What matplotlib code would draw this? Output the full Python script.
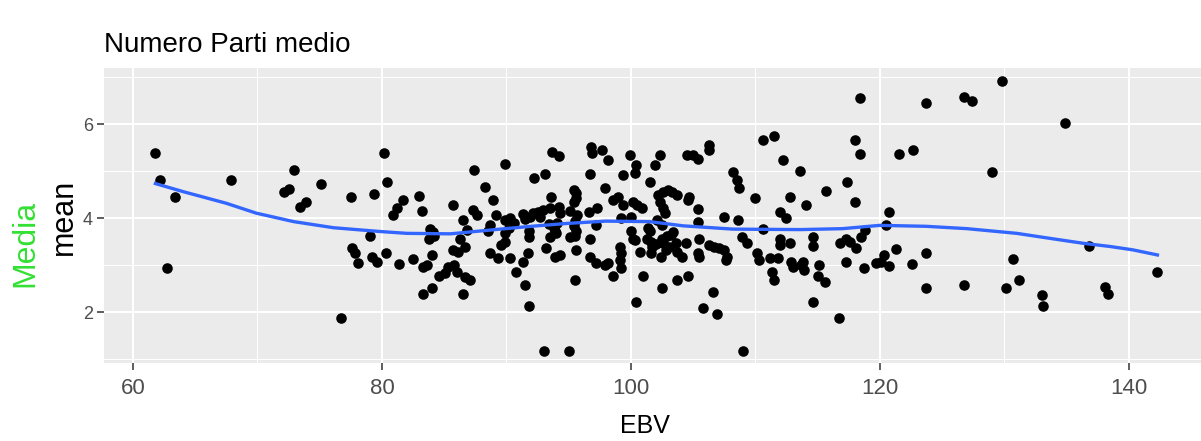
import matplotlib
matplotlib.use("Agg")
import matplotlib.pyplot as plt
from matplotlib.ticker import MultipleLocator

# pontos (EBV, media)
ebv = [
    61.8, 62.2, 63.4, 62.7, 67.9, 72.1, 72.5, 72.9, 73.4, 73.9,
    75.1, 77.5, 77.6, 77.8, 78.1, 76.7, 79.0, 79.4, 79.2, 79.6,
    80.2, 80.4, 80.3, 80.9, 81.2, 81.7, 81.4, 82.5, 83.0, 83.2,
    83.9, 84.1, 83.8, 84.2, 84.0, 83.3, 83.6, 83.3, 84.0, 84.6,
    85.1, 85.3, 85.7,
    86.5, 86.8, 86.3, 86.7, 85.7, 86.1, 85.8, 86.0, 86.7, 87.1,
    86.5, 87.4, 87.3, 87.6, 88.3, 88.9, 89.2, 88.7, 88.5, 88.7,
    89.3, 89.9, 89.9, 90.3, 90.6, 90.2, 89.9, 89.6, 89.9, 90.3,
    90.8, 91.3, 91.5, 91.9, 92.1, 92.5, 92.7, 92.9, 91.8, 91.8,
    91.3, 91.7, 91.5, 91.8, 92.2, 93.1, 93.7, 94.2, 93.6, 93.5,
    94.2, 94.3, 93.4, 93.8, 94.1, 94.0, 93.5, 93.9, 93.2, 93.9,
    94.3, 93.0, 95.0, 95.4, 95.6, 95.6, 95.4, 95.1, 95.7, 95.5,
    95.4, 95.6, 95.5, 95.1, 95.6, 95.5, 96.7, 96.8, 96.9, 96.6,
    97.3, 96.7, 97.2, 96.7, 97.2,
    97.7, 98.2, 97.9, 98.6, 99.0, 99.4, 99.9, 100.4, 100.3, 99.4,
    100.2, 100.5, 100.9, 99.2, 100.0, 100.0, 100.2, 100.3, 99.1, 99.2,
    99.1, 99.2, 97.9, 98.2, 98.6, 101.0, 100.4, 100.7, 101.5, 101.9,
    102.3, 101.4, 101.5, 102.2, 102.6, 103.0, 103.3, 103.7, 102.3, 102.6,
    102.7, 102.1, 102.5, 101.3, 101.6, 101.7, 101.6, 102.0, 102.5, 102.6,
    102.9, 103.2, 103.4, 102.8, 102.4, 103.1, 103.6, 102.5, 103.7, 104.6,
    103.7, 104.1, 104.4, 104.6, 104.7, 104.5, 105.0, 105.4, 106.3, 106.3,
    105.4, 105.4, 105.5, 105.4, 105.5, 106.3, 106.7, 107.1, 107.5, 107.7,
    107.6, 106.6, 105.8, 106.9, 107.5, 108.2, 108.5, 108.7, 108.6, 108.9,
    109.3, 109.0,
    110.0, 110.1, 110.3, 110.6, 111.5, 110.6, 111.2, 111.3, 111.5, 112.2,
    112.0, 112.5, 112.0, 112.0, 111.8, 112.8, 112.8, 112.9, 113.0, 113.6,
    114.1, 113.7, 113.9, 113.8, 114.6, 114.6, 114.6, 115.1, 115.0, 115.6,
    115.7, 116.7, 116.8, 117.3, 117.6, 118.1, 117.3, 117.4, 118.0, 118.4,
    118.4, 118.0, 118.7, 118.5, 118.8, 119.7, 120.1, 120.3, 120.7, 120.5,
    120.7, 121.3, 121.5,
    122.7, 122.6, 123.7, 123.7, 123.7, 126.8, 127.4, 126.8, 129.0, 129.8,
    130.1, 130.7, 131.2, 133.0, 133.1, 134.9, 136.8, 138.1, 138.3, 142.3,
]
media = [
    5.40, 4.81, 4.46, 2.95, 4.81, 4.55, 4.62, 5.03, 4.25, 4.35,
    4.73, 4.46, 3.36, 3.26, 3.04, 1.87, 3.63, 4.51, 3.18, 3.08,
    5.40, 4.77, 3.26, 4.07, 4.21, 4.39, 3.03, 3.13, 4.47, 4.16,
    3.78, 3.70, 3.56, 3.62, 3.22, 2.97, 3.01, 2.38, 2.52, 2.78,
    2.83, 2.97, 4.29,
    3.96, 3.75, 3.57, 3.40, 3.33, 3.29, 3.01, 2.86, 2.76, 2.69,
    2.38, 5.03, 4.18, 4.07, 4.67, 4.39, 4.07, 3.86, 3.72, 3.26,
    3.16, 5.16, 3.96, 4.00, 3.89, 3.79, 3.68, 3.43, 3.50, 3.16,
    2.85, 4.10, 3.98, 4.03, 4.12, 4.13, 4.02, 4.18, 3.61, 3.72,
    3.08, 3.26, 2.57, 2.14, 4.85, 4.94, 5.42, 5.33, 4.46, 4.21,
    4.25, 4.11, 3.88, 3.80, 3.90, 3.68, 3.60, 3.73, 3.37, 3.18,
    3.22, 1.18, 1.18, 4.60, 4.53, 4.43, 4.35, 4.15, 4.08, 3.95,
    3.83, 3.72, 3.62, 3.60, 3.33, 2.69, 4.94, 5.52, 5.40, 4.14,
    4.21, 3.57, 3.86, 3.18, 3.04,
    5.45, 5.24, 4.64, 4.39, 4.46, 4.92, 5.35, 5.13, 4.96, 4.28,
    4.35, 4.28, 4.21, 4.00, 4.03, 3.72, 3.57, 3.54, 3.40, 3.26,
    3.11, 2.94, 3.01, 3.04, 2.78, 2.78, 2.21, 3.29, 4.78, 5.13,
    5.35, 3.79, 3.72, 4.50, 4.57, 4.60, 4.57, 4.50, 4.35, 4.21,
    4.11, 3.96, 3.86, 3.55, 3.50, 3.40, 3.26, 3.45, 3.57, 3.47,
    3.62, 3.64, 3.70, 3.33, 3.18, 3.40, 3.47, 2.52, 2.69, 2.78,
    3.29, 3.18, 3.47, 4.39, 4.46, 5.35, 5.35, 5.26, 5.56, 5.45,
    4.20, 3.93, 3.57, 3.26, 3.18, 3.43, 3.40, 3.36, 3.33, 3.18,
    3.11, 2.43, 2.09, 1.96, 4.03, 4.99, 4.81, 4.64, 3.96, 3.61,
    3.47, 1.18,
    4.43, 3.26, 3.11, 5.67, 5.76, 3.77, 3.16, 2.86, 2.69, 5.24,
    4.14, 4.00, 3.57, 3.43, 3.15, 4.46, 3.47, 3.08, 2.97, 5.01,
    4.28, 3.01, 2.90, 3.08, 3.61, 3.42, 2.21, 3.01, 2.78, 2.65,
    4.59, 1.87, 3.47, 3.57, 3.50, 3.36, 3.08, 4.77, 5.67, 5.36,
    6.57, 4.34, 2.95, 3.61, 3.75, 3.04, 3.08, 3.22, 2.99, 3.86,
    4.14, 3.35, 5.36,
    5.45, 3.03, 6.45, 3.26, 2.52, 6.59, 6.50, 2.57, 4.98, 6.92,
    2.52, 3.13, 2.69, 2.37, 2.14, 6.02, 3.41, 2.54, 2.38, 2.86,
]

# curva loess
smooth_x = [61.8, 64.0, 67.5, 69.9, 72.9, 76.1, 79.8, 82.0, 85.5, 89.5, 92.0,
            94.8, 98.0, 101.5, 104.2, 108.2, 113.6, 117.0, 120.0, 123.7,
            127.0, 131.0, 134.0, 136.3, 138.5, 140.3, 142.3]
smooth_y = [4.74, 4.57, 4.32, 4.11, 3.93, 3.80, 3.72, 3.68, 3.67, 3.77, 3.83,
            3.89, 3.94, 3.93, 3.84, 3.77, 3.76, 3.78, 3.85, 3.83,
            3.78, 3.68, 3.56, 3.47, 3.40, 3.33, 3.22]

x_ticks = [60, 80, 100, 120, 140]
y_ticks = [2, 4, 6]

plt.rcParams["font.family"] = ["Liberation Sans", "DejaVu Sans"]

W, H = 1201, 441
fig = plt.figure(figsize=(W / 100, H / 100), dpi=100)
ax = fig.add_axes([104 / W, (H - 363) / H, (W - 104) / W, 295 / H])

ax.set_facecolor("#EBEBEB")
ax.set_xlim(57.67, 145.8)
ax.set_ylim(0.92, 7.2)
ax.set_xticks(x_ticks)
ax.set_yticks(y_ticks)
ax.xaxis.set_minor_locator(MultipleLocator(10))
ax.yaxis.set_minor_locator(MultipleLocator(1))
ax.grid(True, which="major", color="white", linewidth=1.5)
ax.grid(True, which="minor", color="white", linewidth=0.75)
ax.set_axisbelow(True)
for s in ax.spines.values():
    s.set_visible(False)

ax.tick_params(which="minor", length=0)
ax.tick_params(which="major", length=5, width=1.1, color="#333333",
               labelcolor="#4D4D4D")
ax.tick_params(axis="x", pad=6, labelsize=16)
ax.tick_params(axis="y", pad=3, labelsize=13)

ax.scatter(ebv, media, s=58, color="black", linewidths=0, zorder=3)
ax.plot(smooth_x, smooth_y, color="#3366FF", linewidth=2.4, zorder=4)

fig.text(104 / W, 1 - 52 / H, "Numero Parti medio", fontsize=20,
         color="black", ha="left", va="baseline")
fig.text(645 / W, 1 - 433 / H, "EBV", fontsize=18,
         color="black", ha="center", va="baseline")
fig.text(72 / W, 1 - 217 / H, "mean", fontsize=22, rotation=90,
         rotation_mode="anchor", ha="center", va="baseline", color="black")
fig.text(33 / W, 1 - 243 / H, "Media", fontsize=23, rotation=90,
         rotation_mode="anchor", ha="center", va="baseline", color="#33E033")

fig.savefig("out.png", dpi=100)
